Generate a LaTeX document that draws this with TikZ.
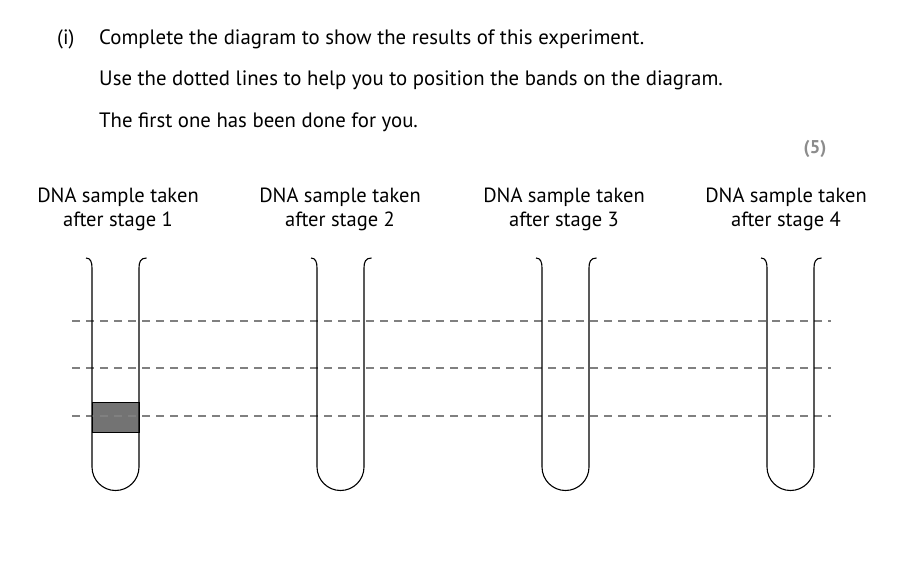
\documentclass[tikz,border=0pt]{standalone}
\usepackage{fontspec}
\setmainfont{PT Sans}
\begin{document}
\begin{tikzpicture}[x=1pt,y=-1pt,
  txt/.style={anchor=base west,inner sep=0pt,font=\fontsize{20.8}{24}\selectfont},
  lab/.style={align=center,inner sep=0pt,font=\fontsize{20.5}{24}\selectfont},
  tube/.style={draw=black,line width=1.1pt},
  guide/.style={draw=black!50,line width=1.1pt,dash pattern=on 8pt off 6pt},
  band/.style={fill=black!55,draw=black,line width=1pt}]
\useasboundingbox (0,0) rectangle (902,560);
\node[txt] (qi) at (57,44) {(i)};
\node[txt] (l1) at (99,44) {Complete the diagram to show the results of this experiment.};
\node[txt] (l2) at (99,85) {Use the dotted lines to help you to position the bands on the diagram.};
\node[txt] (l3) at (99,127) {The first one has been done for you.};
\node[txt,anchor=base,font=\bfseries\fontsize{18.5}{20}\selectfont,text=black!45] (mk) at (815,153) {(5)};
\foreach \i/\cx in {1/118,2/340,3/564,4/786}{
  \node[lab] (lab\i) at (\cx,209) {DNA sample taken\\after stage \i};
}
% band in tube 1
\path[band] (92,402) rectangle (139,432);
% guide lines
\foreach \y/\n in {321/a,368/b,416/c}{
  \coordinate (g\n l) at (72,\y);
  \coordinate (g\n r) at (831,\y);
  \draw[guide] (g\n l) -- (g\n r);
}
% tubes
\foreach \cx in {115.5,340.5,565.5,790.5}{
  \draw[tube] (\cx-29.5,258) .. controls (\cx-25,258) and (\cx-23.5,262) .. (\cx-23.5,268)
     -- (\cx-23.5,467) arc[start angle=180,end angle=0,radius=23.5]
     -- (\cx+23.5,268) .. controls (\cx+23.5,262) and (\cx+25,258) .. (\cx+31,258);
}
\end{tikzpicture}
\end{document}
